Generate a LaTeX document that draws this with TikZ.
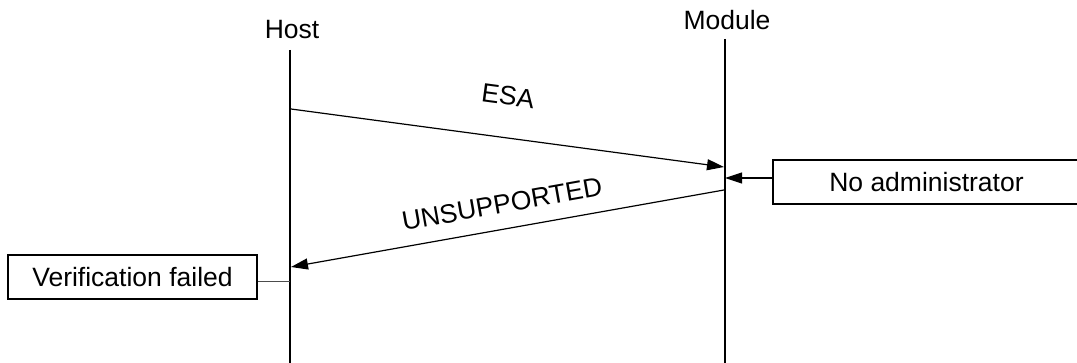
\documentclass[tikz,border=0pt]{standalone}
\usepackage{fontspec}
\setmainfont{Liberation Sans}
\usetikzlibrary{arrows.meta}
\begin{document}
\begin{tikzpicture}[x=1pt,y=-1pt,font=\fontsize{26.5}{31}\selectfont,
        lifeline/.style={line width=1.5pt},
        msg/.style={-{Triangle[length=17pt,width=11pt]},line width=1.2pt},
        note box/.style={draw,line width=1.2pt,minimum height=44pt,inner sep=0pt}]
        \useasboundingbox (0,0) rectangle (1077,363);
        \node (host) at (292,30) {Host};
        \node (module) at (727,20) {Module};
        \coordinate (htop) at (290,50);
        \coordinate (hbot) at (290,366);
        \coordinate (mtop) at (725,39);
        \coordinate (mbot) at (725,366);
        \draw [lifeline] (htop) -- (hbot);
        \draw [lifeline] (mtop) -- (mbot);
        \coordinate (esa1) at (291,109);
        \coordinate (esa2) at (724,167);
        \coordinate (uns1) at (724,190);
        \coordinate (uns2) at (291,267);
        \coordinate (adm) at (725,178);
        \coordinate (ver) at (290,281);
        \node [note box, minimum width=307pt] (admin) at (926.5,182) {No administrator};
        \node [note box, minimum width=249pt] (verif) at (132.5,277) {Verification failed};
        \draw [msg] (esa1) -- (esa2);
        \node [rotate=-7.6] (esalabel) at (508,96) {ESA};
        \draw [msg] (uns1) -- (uns2);
        \node [rotate=10.1] (unslabel) at (502,204) {UNSUPPORTED};
        \draw [msg] (admin.west |- adm) -- (adm);
        \draw [line width=0.8pt, black!70] (verif.east |- ver) -- (ver);
    \end{tikzpicture}
\end{document}
